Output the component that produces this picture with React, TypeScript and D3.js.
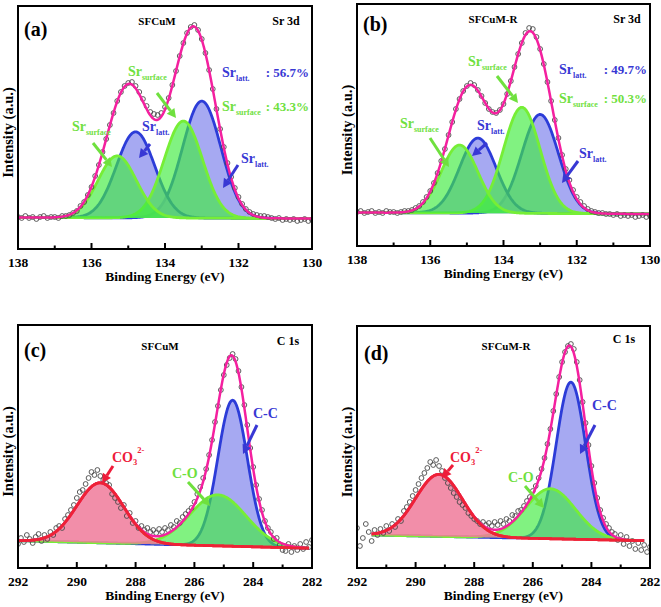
import React from "react";
import * as d3 from "d3";

// ---------------- data ----------------
// Raw XPS counts (arbitrary units), sampled every 0.1 eV from the start energy downward
const srStartEnergy = 138;
const cStartEnergy = 292;
const energyStep = -0.1;

const sfcumSrCounts = [
  32, 31, 33, 31, 32, 30, 32, 33, 31, 32,
  32, 31, 33, 33, 34, 36, 38, 43, 47, 54,
  62, 73, 84, 97, 110, 124, 136, 148, 157, 163,
  166, 167, 163, 157, 150, 143, 137, 135, 134, 136,
  142, 151, 164, 178, 193, 206, 216, 222, 224, 219,
  210, 196, 179, 160, 140, 120, 102, 86, 72, 61,
  52, 45, 40, 37, 35, 34, 33, 33, 32, 31,
  30, 31, 29, 30, 29, 30, 28, 29, 30, 28,
  29,
];
const sfcumRSrCounts = [
  34, 35, 33, 34, 35, 33, 34, 33, 35, 34,
  34, 33, 34, 35, 35, 36, 38, 40, 44, 49,
  55, 63, 73, 85, 97, 111, 124, 137, 147, 155,
  160, 163, 161, 156, 150, 143, 137, 134, 133, 136,
  142, 152, 165, 179, 192, 203, 213, 218, 217, 209,
  197, 182, 164, 145, 126, 108, 91, 77, 66, 56,
  49, 44, 40, 37, 35, 34, 33, 33, 32, 32,
  31, 32, 30, 31, 30, 31, 29, 30, 31, 29,
  30,
];
const sfcumCCounts = [
  24, 30, 26, 33, 29, 25, 31, 34, 27, 33,
  29, 36, 33, 40, 42, 40, 49, 53, 58, 63,
  70, 76, 78, 84, 90, 96, 93, 98, 92, 88,
  85, 83, 74, 70, 66, 60, 63, 52, 55, 45,
  47, 40, 42, 38, 40, 36, 38, 35, 39, 36,
  40, 38, 43, 41, 47, 45, 51, 54, 57, 60,
  66, 74, 81, 90, 99, 113, 128, 146, 162, 178,
  193, 203, 210, 214, 209, 197, 181, 163, 143, 120,
  101, 83, 69, 58, 47, 40, 36, 29, 30, 23,
  18, 17, 24, 16, 22, 18, 24, 19, 26, 21,
  28,
];
const sfcumRCCounts = [
  40, 22, 30, 44, 36, 27, 38, 33, 39, 35,
  42, 37, 44, 41, 49, 47, 57, 61, 66, 72,
  78, 84, 90, 95, 100, 106, 103, 108, 102, 97,
  90, 85, 80, 75, 71, 66, 63, 60, 55, 52,
  49, 47, 44, 46, 43, 45, 42, 46, 43, 47,
  44, 49, 47, 53, 52, 57, 58, 62, 67, 71,
  77, 82, 90, 99, 110, 124, 139, 157, 174, 191,
  206, 216, 222, 224, 219, 206, 188, 166, 145, 123,
  102, 85, 70, 58, 50, 44, 40, 36, 34, 28,
  33, 24, 31, 22, 27, 19, 25, 18, 23, 16,
  21,
];

// Fitted components: [centre (eV), height, gaussian sigma (eV)]
const sfcumSrLatt = [[133.0, 117, 0.52], [134.8, 86, 0.52]];
const sfcumSrSurface = [[133.5, 97, 0.52], [135.3, 62, 0.52]];
const sfcumRSrLatt = [[133.0, 99, 0.5], [134.7, 75, 0.5]];
const sfcumRSrSurface = [[133.5, 106, 0.5], [135.2, 68, 0.5]];
const sfcumCC = [[284.7, 146, 0.5]];
const sfcumCO = [[285.2, 51, 0.95]];
const sfcumCO3 = [[289.2, 60, 0.8]];
const sfcumRCC = [[284.7, 157, 0.5]];
const sfcumRCO = [[285.4, 50, 0.85]];
const sfcumRCO3 = [[289.2, 62, 0.8]];

// Linear backgrounds: [energy, level] end points
const sfcumSrBackground = [[138, 31.5], [130, 30.5]];
const sfcumRSrBackground = [[138, 33.5], [130, 32]];
const sfcumCBackground = [[292, 27.3], [282, 19.7]];
const sfcumRCBackground = [[291.5, 33.0], [282.2, 27.3]];

const srTicks = [138, 136, 134, 132, 130];
const srMinorTicks = [137, 135, 133, 131];
const cTicks = [292, 290, 288, 286, 284, 282];
const cMinorTicks = [291, 289, 287, 285, 283];

const srShares = { sfcum: ["56.7%", "43.3%"], sfcumR: ["49.7%", "50.3%"] };

// ---------------- styles ----------------
const FONT = "'Liberation Serif', 'Times New Roman', serif";
const BLUE = "#2c3cd8";
const BLUE_FILL = "#9094ef";
const GREEN = "#76ee36";
const GREEN_FILL = "#3fec3f";
const RED = "#ee2236";
const RED_FILL = "#f07a9a";
const MAGENTA = "#f4209f";
const TXT_BLUE = "#3838d4";
const TXT_GREEN = "#6fe03e";
const TXT_RED = "#ee1c3a";

type Peak = number[];

function gauss(e: number, p: Peak) {
  return p[1] * Math.exp(-((e - p[0]) ** 2) / (2 * p[2] * p[2]));
}

function Arrow({ x1, y1, x2, y2, color }: any) {
  const a = Math.atan2(y2 - y1, x2 - x1);
  const L = 9, w = 4.8;
  const bx = x2 - L * Math.cos(a), by = y2 - L * Math.sin(a);
  const px = -Math.sin(a) * w, py = Math.cos(a) * w;
  return (
    <g>
      <line x1={x1} y1={y1} x2={bx} y2={by} stroke={color} strokeWidth={3} />
      <polygon points={`${x2},${y2} ${bx + px},${by + py} ${bx - px},${by - py}`} fill={color} />
    </g>
  );
}

function SubLabel({ x, y, main, sub, color, size = 14, subSize = 8, dy = 4 }: any) {
  return (
    <text x={x} y={y} fill={color} fontFamily={FONT} fontWeight="bold" fontSize={size}>
      {main}
      <tspan fontSize={subSize} dy={dy}>{sub}</tspan>
    </text>
  );
}

function CO3Label({ x, y }: any) {
  return (
    <text x={x} y={y} fill={TXT_RED} fontFamily={FONT} fontWeight="bold" fontSize={14}>
      CO
      <tspan fontSize={8.5} dy={3}>3</tspan>
      <tspan fontSize={8.5} dy={-12}>2-</tspan>
    </text>
  );
}

function Panel({ spec }: any) {
  const { id, left, top, right, bottom, domain, ticks, minor, start, counts, bg, fitRange, layers } = spec;
  const x = d3.scaleLinear().domain(domain).range([left, right]);
  const y = d3.scaleLinear().domain([0, bottom - top]).range([bottom, top]);
  const bgScale = d3.scaleLinear().domain([bg[0][0], bg[1][0]]).range([bg[0][1], bg[1][1]]);
  const grid = d3.range(fitRange[0], fitRange[1] - 0.001, -0.02);
  grid.push(fitRange[1]);
  const allPeaks: Peak[] = layers.flatMap((l: any) => l.peaks);
  const envelope = d3
    .line<number>()
    .x((e) => x(e))
    .y((e) => y(bgScale(e) + d3.sum(allPeaks, (p) => gauss(e, p))));
  const pts = counts.map((v: number, i: number) => [start + energyStep * i, v]);
  const clipId = `clip-${id}`;

  const compPaths = (layer: any, k: number, strokeOnly = false) =>
    layer.peaks.map((p: Peak, j: number) => {
      const area = d3
        .area<number>()
        .x((e) => x(e))
        .y0((e) => y(bgScale(e)))
        .y1((e) => y(bgScale(e) + gauss(e, p)));
      const top = d3
        .line<number>()
        .x((e) => x(e))
        .y((e) => y(bgScale(e) + gauss(e, p)));
      return (
        <g key={`${k}-${j}-${strokeOnly}`}>
          {!strokeOnly && <path d={area(grid) || ""} fill={layer.fill} fillOpacity={layer.opacity} stroke="none" />}
          <path d={top(grid) || ""} fill="none" stroke={layer.stroke} strokeWidth={2.8} strokeLinejoin="round" />
        </g>
      );
    });

  const cx = (left + right) / 2;
  const cy = (top + bottom) / 2 + 5;
  return (
    <g>
      <defs>
        <clipPath id={clipId}>
          <rect x={left} y={top} width={right - left} height={bottom - top} />
        </clipPath>
      </defs>
      <g clipPath={`url(#${clipId})`}>
        {layers.map((l: any, k: number) => compPaths(l, k))}
        {pts.map((d: number[], i: number) => (
          <circle key={i} cx={x(d[0])} cy={y(d[1])} r={2.4} fill="none" stroke="#4a4a4a" strokeWidth={0.9} />
        ))}
        <path d={envelope(grid) || ""} fill="none" stroke={MAGENTA} strokeWidth={2.5} />
        {spec.redOnTop && layers.filter((l: any) => l.stroke === RED).map((l: any, k: number) => compPaths(l, 10 + k, true))}
      </g>
      <rect x={left} y={top} width={right - left} height={bottom - top} fill="none" stroke="#000" strokeWidth={2} />
      {ticks.map((t: number) => (
        <g key={`t${t}`}>
          <line x1={x(t)} x2={x(t)} y1={bottom} y2={bottom - 6} stroke="#000" strokeWidth={2} />
          <text x={x(t)} y={bottom + 18} textAnchor="middle" fontFamily={FONT} fontWeight="bold" fontSize={13.5}>
            {t}
          </text>
        </g>
      ))}
      {minor.map((t: number) => (
        <line key={`m${t}`} x1={x(t)} x2={x(t)} y1={bottom} y2={bottom - 3.5} stroke="#000" strokeWidth={2} />
      ))}
      <text x={cx} y={bottom + 32} textAnchor="middle" fontFamily={FONT} fontWeight="bold" fontSize={13.5}>
        Binding Energy (eV)
      </text>
      <text
        transform={`translate(${left - 5},${cy}) rotate(-90)`}
        textAnchor="middle"
        fontFamily={FONT}
        fontWeight="bold"
        fontSize={14.5}
      >
        Intensity (a.u.)
      </text>
    </g>
  );
}

const panels = [
  {
    id: "a", left: 18, top: 6, right: 312, bottom: 249, domain: [138, 130], ticks: srTicks, minor: srMinorTicks,
    start: srStartEnergy, counts: sfcumSrCounts, bg: sfcumSrBackground, fitRange: [138, 130],
    layers: [
      { peaks: sfcumSrLatt, stroke: BLUE, fill: BLUE_FILL, opacity: 0.8 },
      { peaks: sfcumSrSurface, stroke: GREEN, fill: GREEN_FILL, opacity: 0.66 },
    ],
  },
  {
    id: "b", left: 357, top: 4, right: 650, bottom: 246, domain: [138, 130], ticks: srTicks, minor: srMinorTicks,
    start: srStartEnergy, counts: sfcumRSrCounts, bg: sfcumRSrBackground, fitRange: [138, 130],
    layers: [
      { peaks: sfcumRSrLatt, stroke: BLUE, fill: BLUE_FILL, opacity: 0.8 },
      { peaks: sfcumRSrSurface, stroke: GREEN, fill: GREEN_FILL, opacity: 0.66 },
    ],
  },
  {
    id: "c", left: 18, top: 325, right: 312, bottom: 568, domain: [292, 282], ticks: cTicks, minor: cMinorTicks,
    start: cStartEnergy, counts: sfcumCCounts, bg: sfcumCBackground, fitRange: [292, 282.1], redOnTop: true,
    layers: [
      { peaks: sfcumCC, stroke: BLUE, fill: BLUE_FILL, opacity: 0.8 },
      { peaks: sfcumCO, stroke: GREEN, fill: GREEN_FILL, opacity: 0.66 },
      { peaks: sfcumCO3, stroke: RED, fill: RED_FILL, opacity: 0.85 },
    ],
  },
  {
    id: "d", left: 357, top: 326, right: 650, bottom: 568, domain: [292, 282], ticks: cTicks, minor: cMinorTicks,
    start: cStartEnergy, counts: sfcumRCCounts, bg: sfcumRCBackground, fitRange: [291.5, 282.2], redOnTop: true,
    layers: [
      { peaks: sfcumRCC, stroke: BLUE, fill: BLUE_FILL, opacity: 0.8 },
      { peaks: sfcumRCO, stroke: GREEN, fill: GREEN_FILL, opacity: 0.66 },
      { peaks: sfcumRCO3, stroke: RED, fill: RED_FILL, opacity: 0.85 },
    ],
  },
];

function Title({ x, y, text, size, anchor = "start" }: any) {
  return (
    <text x={x} y={y} textAnchor={anchor} fontFamily={FONT} fontWeight="bold" fontSize={size}>
      {text}
    </text>
  );
}

function Share({ x, y, text, color }: any) {
  return (
    <text x={x} y={y} textAnchor="end" fill={color} fontFamily={FONT} fontWeight="bold" fontSize={13}>
      : {text}
    </text>
  );
}

export default function App() {
  return (
    <svg
      width={661}
      height={607}
      style={{ position: "absolute", left: 0, top: 0, background: "#fff" }}
    >
      {panels.map((p) => (
        <Panel key={p.id} spec={p} />
      ))}

      {/* ---- (a) ---- */}
      <Title x={24} y={36} text="(a)" size={20} />
      <Title x={157} y={25} text="SFCuM" size={11} anchor="middle" />
      <Title x={286} y={25} text="Sr 3d" size={12} anchor="middle" />
      <SubLabel x={222} y={77} main="Sr" sub="latt." color={TXT_BLUE} />
      <Share x={309} y={77} text={srShares.sfcum[0]} color={TXT_BLUE} />
      <SubLabel x={222} y={111} main="Sr" sub="surface" color={TXT_GREEN} />
      <Share x={309} y={111} text={srShares.sfcum[1]} color={TXT_GREEN} />
      <SubLabel x={72} y={131} main="Sr" sub="surface" color={TXT_GREEN} />
      <Arrow x1={93} y1={143} x2={112} y2={167} color={TXT_GREEN} />
      <SubLabel x={142} y={131} main="Sr" sub="latt." color={TXT_BLUE} />
      <Arrow x1={150} y1={144} x2={139} y2={158} color={TXT_BLUE} />
      <SubLabel x={128} y={76} main="Sr" sub="surface" color={TXT_GREEN} />
      <Arrow x1={157} y1={93} x2={176} y2={118} color={TXT_GREEN} />
      <SubLabel x={241} y={163} main="Sr" sub="latt." color={TXT_BLUE} />
      <Arrow x1={238} y1={165} x2={223} y2={188} color={TXT_BLUE} />

      {/* ---- (b) ---- */}
      <Title x={363} y={31} text="(b)" size={20} />
      <Title x={493} y={23} text="SFCuM-R" size={11} anchor="middle" />
      <Title x={627} y={23} text="Sr 3d" size={12} anchor="middle" />
      <SubLabel x={559} y={74} main="Sr" sub="latt." color={TXT_BLUE} />
      <Share x={647} y={74} text={srShares.sfcumR[0]} color={TXT_BLUE} />
      <SubLabel x={559} y={103} main="Sr" sub="surface" color={TXT_GREEN} />
      <Share x={647} y={103} text={srShares.sfcumR[1]} color={TXT_GREEN} />
      <SubLabel x={400} y={128} main="Sr" sub="surface" color={TXT_GREEN} />
      <Arrow x1={430} y1={138} x2={449} y2={167} color={TXT_GREEN} />
      <SubLabel x={477} y={130} main="Sr" sub="latt." color={TXT_BLUE} />
      <Arrow x1={487} y1={143} x2={472} y2={156} color={TXT_BLUE} />
      <SubLabel x={468} y={66} main="Sr" sub="surface" color={TXT_GREEN} />
      <Arrow x1={497} y1={76} x2={518} y2={103} color={TXT_GREEN} />
      <SubLabel x={579} y={158} main="Sr" sub="latt." color={TXT_BLUE} />
      <Arrow x1={578} y1={161} x2={562} y2={183} color={TXT_BLUE} />

      {/* ---- (c) ---- */}
      <Title x={24} y={357} text="(c)" size={20} />
      <Title x={160} y={350} text="SFCuM" size={11} anchor="middle" />
      <Title x={288} y={345} text="C 1s" size={12} anchor="middle" />
      <text x={253} y={418} fill={TXT_BLUE} fontFamily={FONT} fontWeight="bold" fontSize={14}>C-C</text>
      <Arrow x1={257} y1={425} x2={243} y2={454} color={TXT_BLUE} />
      <CO3Label x={112} y={462} />
      <Arrow x1={113} y1={466} x2={102} y2={483} color={TXT_RED} />
      <text x={172} y={478} fill={TXT_GREEN} fontFamily={FONT} fontWeight="bold" fontSize={14}>C-O</text>
      <Arrow x1={188} y1={482} x2={210} y2={506} color={TXT_GREEN} />

      {/* ---- (d) ---- */}
      <Title x={364} y={360} text="(d)" size={20} />
      <Title x={506} y={350} text="SFCuM-R" size={11} anchor="middle" />
      <Title x={624} y={343} text="C 1s" size={12} anchor="middle" />
      <text x={592} y={410} fill={TXT_BLUE} fontFamily={FONT} fontWeight="bold" fontSize={14}>C-C</text>
      <Arrow x1={595} y1={425} x2={580} y2={454} color={TXT_BLUE} />
      <CO3Label x={450} y={462} />
      <Arrow x1={453} y1={465} x2={442} y2={478} color={TXT_RED} />
      <text x={508} y={482} fill={TXT_GREEN} fontFamily={FONT} fontWeight="bold" fontSize={14}>C-O</text>
      <Arrow x1={525} y1={486} x2={544} y2={508} color={TXT_GREEN} />
    </svg>
  );
}
